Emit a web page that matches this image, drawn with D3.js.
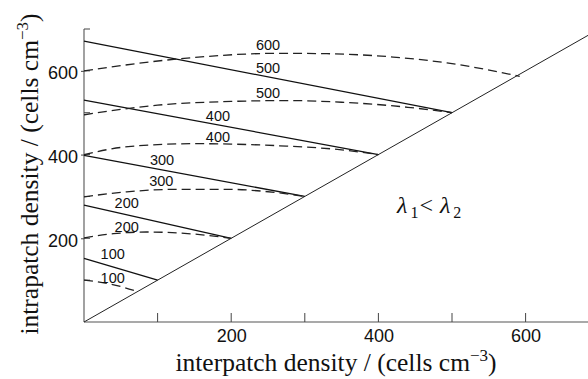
<!DOCTYPE html>
<html><head><meta charset="utf-8">
<script src="https://cdn.jsdelivr.net/npm/d3@7"></script>
<style>html,body{margin:0;padding:0;background:#fff;}svg{display:block;}</style>
</head><body><svg id="c" width="588" height="379"></svg>
<script>
// Data (cells cm^-3)
const xTicksMajor = [200, 400, 600];
const xTicksMinor = [100, 200, 300, 400, 500, 600];
const yTicksMajor = [200, 400, 600];
const yTicksMinor = [100, 200, 300, 400, 500, 600, 700];

// solid lines: start on y axis, end on diagonal
const solidLines = [
  {label: 100, y0: 152, end: 100},
  {label: 200, y0: 279, end: 200},
  {label: 300, y0: 398, end: 300},
  {label: 400, y0: 530, end: 400},
  {label: 500, y0: 671, end: 500}
];
// dashed curves (x, y)
const dashed100 = [[0,100],[35,91],[73,73]];
const dashed200 = [[0,201],[40,211],[85,215],[150,210],[200,200]];
const dashed300 = [[0,299],[58,311],[126,317],[194,317],[262,309],[300,300]];
const dashed400 = [[0,400],[60,419],[150,426],[200,425],[266,421],[340,413],[400,400]];
const dashed500 = [[0,495],[100,518],[200,527],[280,529],[350,525],[440,513],[500,500]];
const dashed600 = [[0,600],[125,628],[266,642],[330,641],[420,633],[493,619],[592,587]];
const dashedCurves = [dashed100, dashed200, dashed300, dashed400, dashed500, dashed600];
const diagonal = [[0,0],[700,700]];

// curve labels: text with anchor in data units
const curveLabels = [
  {t:"600", x:250, y:662}, {t:"500", x:250, y:607}, {t:"500", x:250, y:548},
  {t:"400", x:182, y:493}, {t:"400", x:182, y:442},
  {t:"300", x:106, y:387}, {t:"300", x:105, y:337},
  {t:"200", x:58, y:284}, {t:"200", x:58, y:228},
  {t:"100", x:39, y:162}, {t:"100", x:39, y:106}
];

const svg = d3.select("#c");
const x = d3.scaleLinear().domain([0, 700]).range([84, 599.2]);
const y = d3.scaleLinear().domain([0, 700]).range([322, 29]);

svg.append("clipPath").attr("id","clip").append("rect").attr("x",0).attr("y",0).attr("width",588).attr("height",379);

// axes
const xAxis = d3.axisBottom(x).tickValues(xTicksMajor).tickSize(0).tickPadding(7).tickFormat(d3.format("d"));
const gx = svg.append("g").attr("transform", `translate(0,${y(0)})`).call(xAxis);
gx.select(".domain").attr("d", `M${x(0)},0H588`).attr("stroke","#555").attr("stroke-width",1.1);
gx.selectAll("text").attr("font-family","'Liberation Sans', Arial, sans-serif").attr("font-size",18).attr("fill","#111");
svg.append("g").selectAll("line").data(xTicksMinor).join("line")
  .attr("x1", d=>x(d)).attr("x2", d=>x(d)).attr("y1", y(0)).attr("y2", y(0)-9)
  .attr("stroke","#444").attr("stroke-width",1);

const yAxis = d3.axisLeft(y).tickValues(yTicksMajor).tickSize(3).tickPadding(3).tickFormat(d3.format("d"));
const gy = svg.append("g").attr("transform", `translate(${x(0)},0)`).call(yAxis);
gy.select(".domain").attr("d", `M0,${y(700)}V${y(0)}`).attr("stroke","#555").attr("stroke-width",1.1);
gy.selectAll(".tick line").attr("stroke","#444");
gy.selectAll("text").attr("font-family","'Liberation Sans', Arial, sans-serif").attr("font-size",18).attr("fill","#111").attr("dy","0.45em");
svg.append("g").selectAll("line").data(yTicksMinor).join("line")
  .attr("x1", x(0)).attr("x2", x(0)+6).attr("y1", d=>y(d)).attr("y2", d=>y(d))
  .attr("stroke","#444").attr("stroke-width",1);

const line = d3.line().x(d=>x(d[0])).y(d=>y(d[1]));
const curve = d3.line().x(d=>x(d[0])).y(d=>y(d[1])).curve(d3.curveMonotoneX);

// diagonal
svg.append("path").attr("d", line(diagonal)).attr("clip-path","url(#clip)")
  .attr("fill","none").attr("stroke","#222").attr("stroke-width",1);

// solid lines
svg.append("g").selectAll("path").data(solidLines).join("path")
  .attr("d", d => line([[0, d.y0],[d.end, d.end]]))
  .attr("fill","none").attr("stroke","#111").attr("stroke-width",1.3);

// dashed curves
svg.append("g").selectAll("path").data(dashedCurves).join("path")
  .attr("d", d => curve(d))
  .attr("fill","none").attr("stroke","#222").attr("stroke-width",1.3).attr("stroke-dasharray","9,5");

// curve labels
svg.append("g").selectAll("text").data(curveLabels).join("text")
  .attr("x", d=>x(d.x)).attr("y", d=>y(d.y)).attr("dy","0.36em")
  .attr("text-anchor","middle").attr("font-family","'Liberation Sans', Arial, sans-serif")
  .attr("font-size",14.5).attr("fill","#111").text(d=>d.t);

// axis titles
const serif = "'Liberation Serif', 'Times New Roman', serif";
const xt = svg.append("text").attr("x", 336).attr("y", 371).attr("text-anchor","middle")
  .attr("font-family", serif).attr("font-size", 25.5).attr("fill","#111");
xt.append("tspan").text("interpatch density / (cells cm");
xt.append("tspan").attr("dy",-10).attr("font-size",17).text("\u22123");
xt.append("tspan").attr("dy",10).text(")");

const yt = svg.append("text").attr("transform","translate(38,174) rotate(-90)").attr("text-anchor","middle")
  .attr("font-family", serif).attr("font-size", 25.5).attr("fill","#111");
yt.append("tspan").text("intrapatch density / (cells cm");
yt.append("tspan").attr("dy",-10).attr("font-size",17).text("\u22123");
yt.append("tspan").attr("dy",10).text(")");

// lambda annotation
const lt = svg.append("text").attr("x", 397).attr("y", 213)
  .attr("font-family", serif).attr("font-size", 24).attr("fill","#111");
lt.append("tspan").attr("font-style","italic").text("\u03bb");
lt.append("tspan").attr("dx",3).attr("dy",5).attr("font-size",16).text("1");
lt.append("tspan").attr("dy",-5).attr("dx",1).text("<");
lt.append("tspan").attr("dx",7).attr("font-style","italic").text("\u03bb");
lt.append("tspan").attr("dx",3).attr("dy",5).attr("font-size",16).text("2");
</script></body></html>
